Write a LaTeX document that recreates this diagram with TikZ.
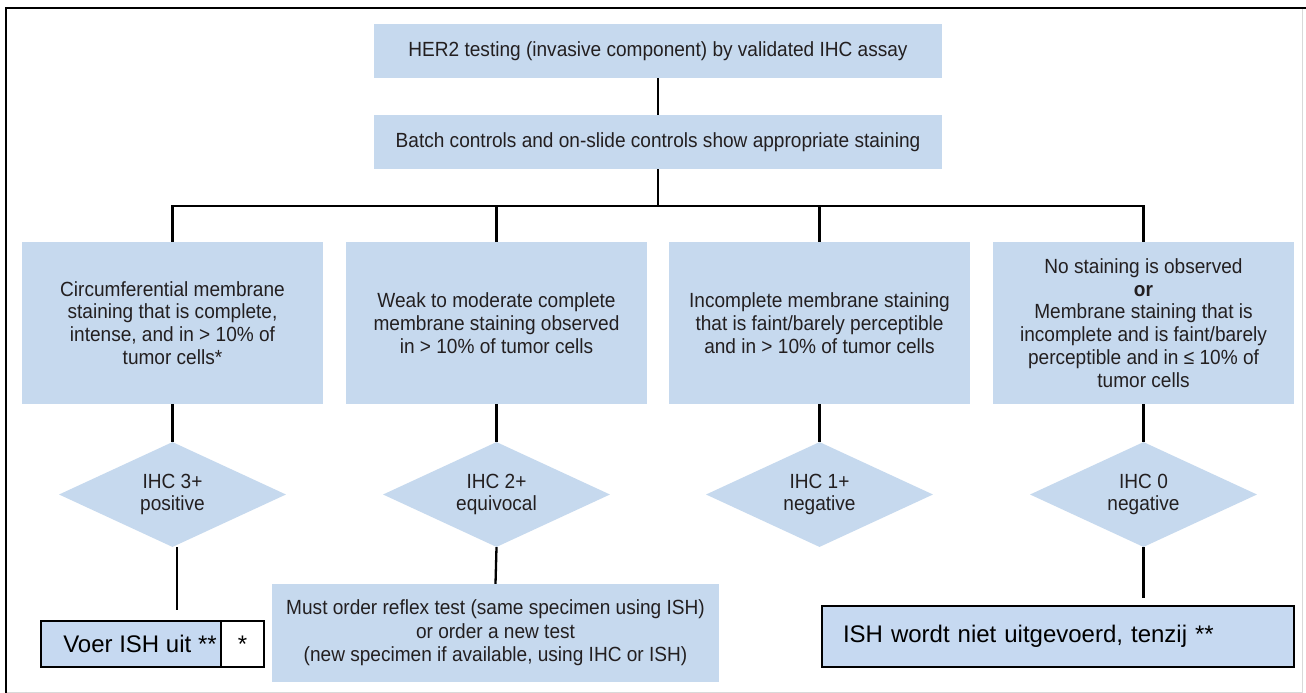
\documentclass[tikz,border=0pt]{standalone}
\usepackage{fontspec}
\setmainfont{Liberation Sans}
\newfontfamily\chartfont{Liberation Sans}[FakeStretch=0.93]
\usetikzlibrary{shapes.geometric}

\definecolor{boxblue}{RGB}{198,217,238}
\definecolor{ishblue}{RGB}{198,217,241}
\definecolor{txtgray}{RGB}{35,31,32}

\newcommand{\scoreline}[1]{\makebox[0pt]{#1}}

\begin{document}
\begin{tikzpicture}[x=1pt,y=-1pt,
            every node/.style={font=\chartfont\fontsize{20.5}{22.8}\selectfont, text=txtgray},
            topbox/.style={fill=boxblue, inner sep=0pt, minimum width=568pt, minimum height=54pt},
            stepbox/.style={fill=boxblue, inner sep=0pt, align=center, minimum width=301pt, minimum height=162pt},
            scorebox/.style={diamond, fill=boxblue, inner sep=0pt, align=center, minimum width=227pt, minimum height=105pt},
            ishbox/.style={draw=black, line width=1.3pt, fill=ishblue, inner sep=0pt, text=black, font=\rmfamily\fontsize{24}{28}\selectfont},
            link/.style={line width=2.3pt, black}]
            \useasboundingbox (0,0) rectangle (1306,693);
            \fill[white] (0,0) rectangle (1306,693);
            \draw[black!15, line width=1pt] (6,8) rectangle (1302,692);
            \draw[line width=2pt] (6,693) -- (6,8) -- (1306,8);
            % top of the chart
            \node[topbox] (her2) at (658,51) {HER2 testing (invasive component) by validated IHC assay};
            \node[topbox] (batch) at (658,142) {Batch controls and on-slide controls show appropriate staining};
            % the four staining patterns
            \node[stepbox] (crit3) at (172.5,323) {Circumferential membrane\\staining that is complete,\\intense, and in > 10\% of\\tumor cells*};
            \node[stepbox] (crit2) at (496.5,323) {Weak to moderate complete\\membrane staining observed\\in > 10\% of tumor cells};
            \node[stepbox] (crit1) at (819.5,323) {Incomplete membrane staining\\that is faint/barely perceptible\\and in > 10\% of tumor cells};
            \node[stepbox] (crit0) at (1143.5,323) {No staining is observed\\\textbf{or}\\Membrane staining that is\\incomplete and is faint/barely\\perceptible and in ≤ 10\% of\\tumor cells};
            % scores
            \node[scorebox] (ihc3) at (172.5,494.5) {\scoreline{IHC 3+}\\\scoreline{positive}};
            \node[scorebox] (ihc2) at (496.5,494.5) {\scoreline{IHC 2+}\\\scoreline{equivocal}};
            \node[scorebox] (ihc1) at (819.5,494.5) {\scoreline{IHC 1+}\\\scoreline{negative}};
            \node[scorebox] (ihc0) at (1143.5,494.5) {\scoreline{IHC 0}\\\scoreline{negative}};
            % what follows
            \node[fill=boxblue, inner sep=0pt, align=center, minimum width=447pt, minimum height=98pt,
                  font=\chartfont\fontsize{20.5}{23.5}\selectfont] (reflex) at (495.5,633)
                  {Must order reflex test (same specimen using ISH)\\or order a new test\\(new specimen if available, using IHC or ISH)};
            \node[ishbox, minimum width=198pt, minimum height=46pt] (voer) at (140,644) {Voer ISH uit **};
            \node[ishbox, fill=white, minimum width=43pt, minimum height=46pt] (voerstar) at (242.5,644) {*};
            \node[ishbox, minimum width=472pt, minimum height=61pt, text width=430pt, align=left] (noish) at (1058,636.5) {ISH wordt niet uitgevoerd, tenzij **};
            \coordinate (bus) at (658,206);
            \coordinate (end3) at (177,610);
            \coordinate (end0) at (1143.5,598);
            % connectors
            \draw[link] (her2.south) -- (batch.north);
            \draw[link] (batch.south) -- (bus);
            \draw[link] (crit3.north) -- (crit3.north |- bus) -- (crit0.north |- bus) -- (crit0.north);
            \draw[link] (crit2.north) -- (crit2.north |- bus);
            \draw[link] (crit1.north) -- (crit1.north |- bus);
            \draw[link] (crit3.south) -- (ihc3.north);
            \draw[link] (crit2.south) -- (ihc2.north);
            \draw[link] (crit1.south) -- (ihc1.north);
            \draw[link] (crit0.south) -- (ihc0.north);
            \draw[link] (ihc3.south -| end3) -- (end3);
            \draw[link] (ihc2.south) -- (reflex.north);
            \draw[link] (ihc0.south) -- (end0);
        \end{tikzpicture}
\end{document}
